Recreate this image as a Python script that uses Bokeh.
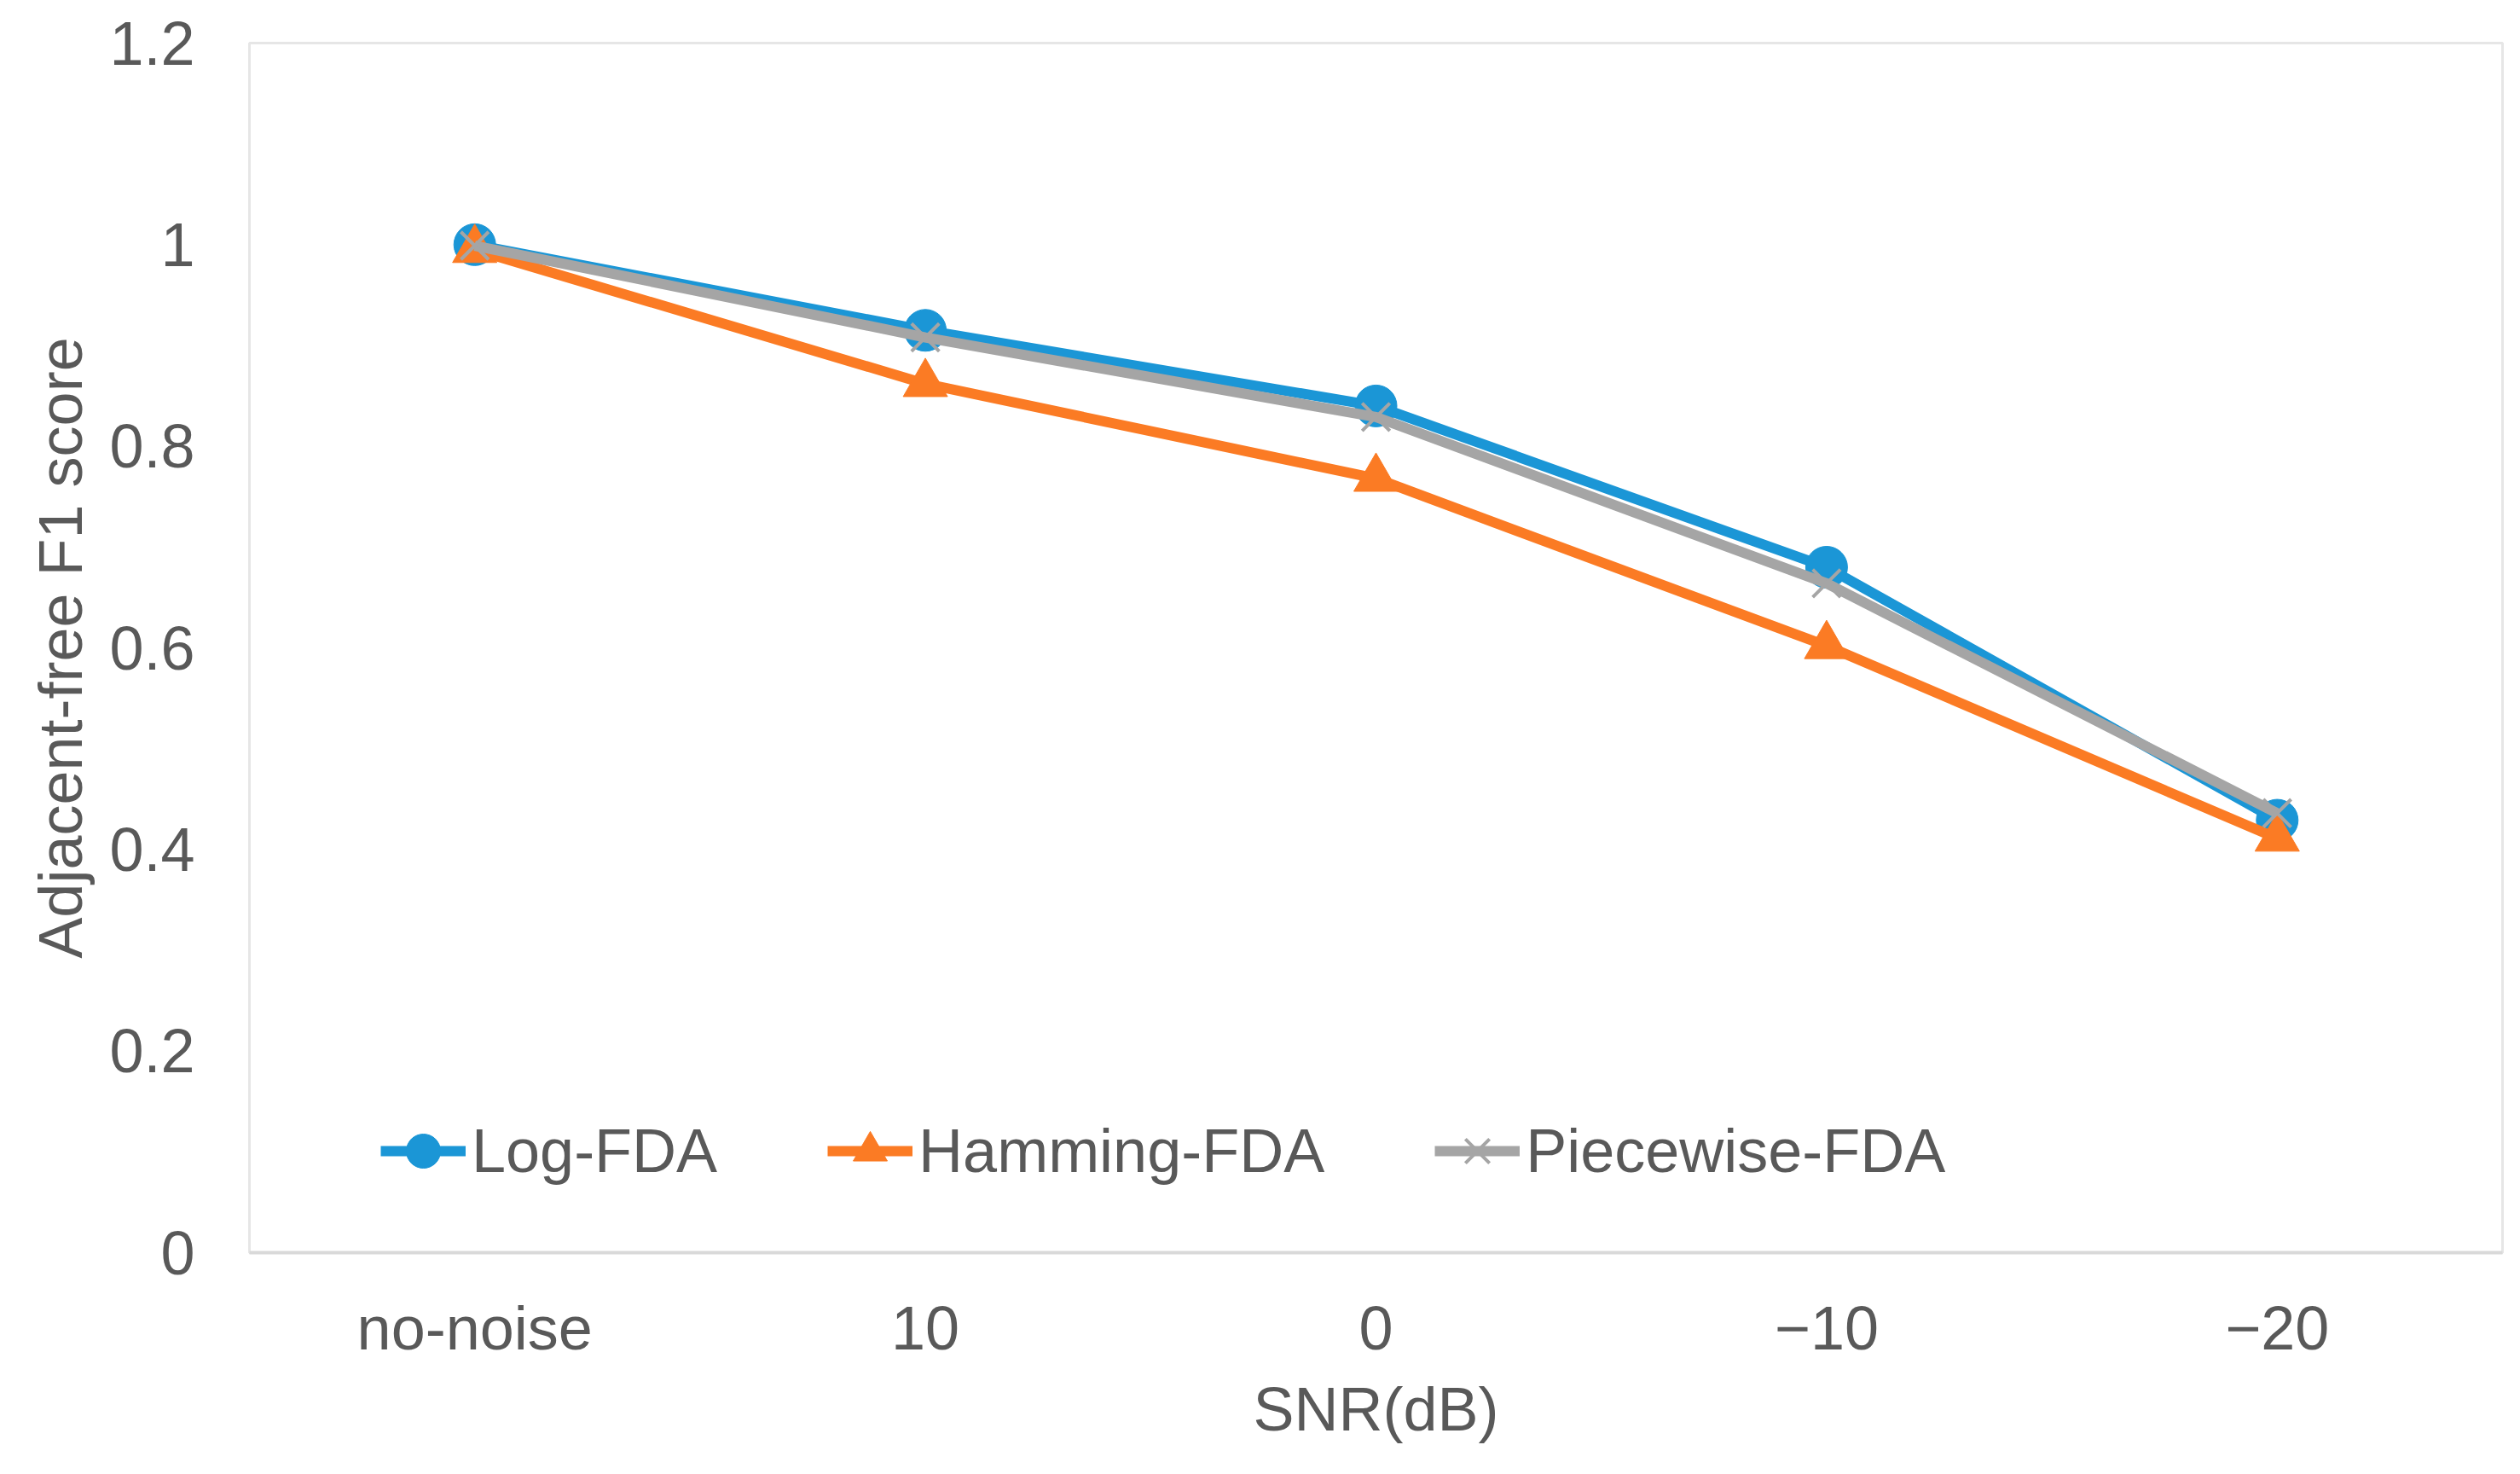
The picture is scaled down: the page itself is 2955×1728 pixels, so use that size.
from bokeh.plotting import figure
from bokeh.models import (FactorRange, Range1d, FixedTicker, Legend, LegendItem,
                          ColumnDataSource)
from bokeh.embed import file_html
from bokeh.resources import INLINE

# ---- data ----
categories = ["no-noise", "10", "0", "\u221210", "\u221220"]
log_fda = [1.000, 0.915, 0.840, 0.680, 0.429]
hamming_fda = [0.995, 0.862, 0.768, 0.602, 0.411]
piecewise_fda = [0.999, 0.908, 0.829, 0.664, 0.436]

y_ticks = [0.0, 0.2, 0.4, 0.6, 0.8, 1.0, 1.2]
y_tick_labels = ["0", "0.2", "0.4", "0.6", "0.8", "1", "1.2"]

x_title = "SNR(dB)"
y_title = "Adjacent-free F1 score"

series_names = ["Log-FDA", "Hamming-FDA", "Piecewise-FDA"]
colors = ["#1B96D6", "#FB7B24", "#A5A5A5"]

FONT = "Liberation Sans"
TXT = "#595959"

p = figure(x_range=FactorRange(*categories), y_range=Range1d(0, 1.2),
           width=2939, height=1712, output_backend="svg", toolbar_location=None,
           min_border_left=292, min_border_right=5, min_border_top=50,
           min_border_bottom=244)

p.background_fill_color = "white"
p.border_fill_color = "white"
p.outline_line_color = "#E6E6E6"
p.outline_line_width = 3
p.xgrid.grid_line_color = None
p.ygrid.grid_line_color = None

# axes
p.yaxis.ticker = FixedTicker(ticks=y_ticks)
p.yaxis.major_label_overrides = {t: l for t, l in zip(y_ticks, y_tick_labels)}
for ax in (p.xaxis, p.yaxis):
    ax.major_tick_line_color = None
    ax.minor_tick_line_color = None
    ax.major_tick_out = 0
    ax.major_tick_in = 0
    ax.major_label_text_font = FONT
    ax.major_label_text_font_size = "72px"
    ax.major_label_text_color = TXT
    ax.axis_label_text_font = FONT
    ax.axis_label_text_font_size = "72px"
    ax.axis_label_text_color = TXT
    ax.axis_label_text_font_style = "normal"
p.yaxis.axis_line_color = None
p.xaxis.axis_line_color = "#D9D9D9"
p.xaxis.axis_line_width = 4
p.yaxis.major_label_standoff = 64
p.xaxis.major_label_standoff = 48
p.xaxis.axis_label = x_title
p.yaxis.axis_label = y_title
p.xaxis.axis_label_standoff = 12
p.yaxis.axis_label_standoff = 14

src = ColumnDataSource(dict(x=categories, log=log_fda, ham=hamming_fda, pw=piecewise_fda))

items = []
# Log-FDA
l1 = p.line("x", "log", source=src, line_color=colors[0], line_width=12)
m1 = p.scatter("x", "log", source=src, marker="circle", size=49,
               fill_color=colors[0], line_color=colors[0], line_width=1)
items.append(LegendItem(label=series_names[0], renderers=[l1, m1]))
# Hamming-FDA
l2 = p.line("x", "ham", source=src, line_color=colors[1], line_width=12)
m2 = p.scatter("x", "ham", source=src, marker="triangle", size=52,
               fill_color=colors[1], line_color=colors[1], line_width=1)
items.append(LegendItem(label=series_names[1], renderers=[l2, m2]))
# Piecewise-FDA
l3 = p.line("x", "pw", source=src, line_color=colors[2], line_width=12)
m3 = p.scatter("x", "pw", source=src, marker="x", size=46,
               line_color=colors[2], line_width=4)
items.append(LegendItem(label=series_names[2], renderers=[l3, m3]))

legend = Legend(items=items, orientation="horizontal", location=(154, 69),
                glyph_width=100, glyph_height=100, label_standoff=7, spacing=129,
                padding=0, margin=0, border_line_alpha=0, background_fill_alpha=0,
                label_text_font=FONT, label_text_font_size="72px",
                label_text_color=TXT, label_text_baseline="middle")
p.add_layout(legend)

open("out.html", "w").write(file_html(p, INLINE))
